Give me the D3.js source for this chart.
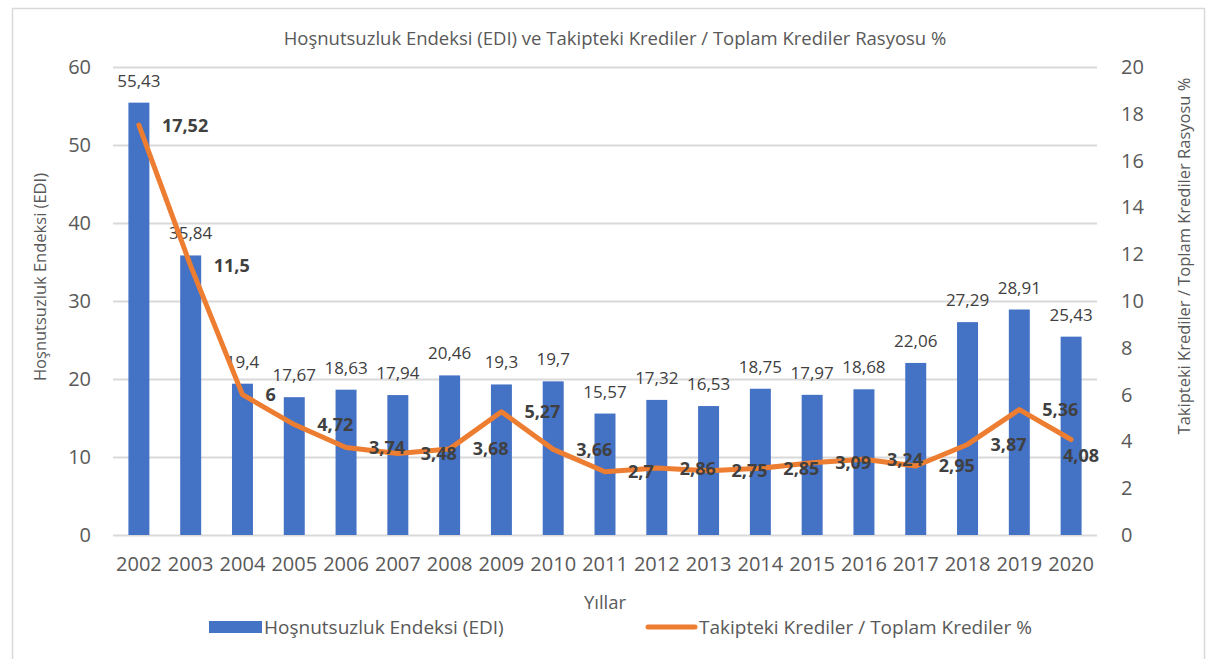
<!DOCTYPE html>
<html>
<head>
<meta charset="utf-8">
<script src="https://cdn.jsdelivr.net/npm/d3@7/dist/d3.min.js"></script>
<style>
  html, body { margin: 0; padding: 0; background: #fff; }
  svg { display: block; font-family: "Open Sans", "Noto Sans", sans-serif; }
  .tick text { fill: #595959; }
</style>
</head>
<body>
<svg id="chart" width="1216" height="659"></svg>
<script>
const years = ['2002', '2003', '2004', '2005', '2006', '2007', '2008', '2009', '2010', '2011',
  '2012', '2013', '2014', '2015', '2016', '2017', '2018', '2019', '2020'];
const ediValues = [55.43, 35.84, 19.4, 17.67, 18.63, 17.94, 20.46, 19.3, 19.7, 15.57,
  17.32, 16.53, 18.75, 17.97, 18.68, 22.06, 27.29, 28.91, 25.43];
const nplValues = [17.52, 11.5, 6, 4.72, 3.74, 3.48, 3.68, 5.27, 3.66, 2.7,
  2.86, 2.75, 2.85, 3.09, 3.24, 2.95, 3.87, 5.36, 4.08];
const leftTicks = [0, 10, 20, 30, 40, 50, 60];
const rightTicks = [0, 2, 4, 6, 8, 10, 12, 14, 16, 18, 20];

const title = 'Hoşnutsuzluk Endeksi (EDI) ve Takipteki Krediler / Toplam Krediler Rasyosu %';
const leftTitle = 'Hoşnutsuzluk Endeksi (EDI)';
const rightTitle = 'Takipteki Krediler / Toplam Krediler Rasyosu %';
const xTitle = 'Yıllar';
const barName = 'Hoşnutsuzluk Endeksi (EDI)';
const lineName = 'Takipteki Krediler / Toplam Krediler %';

const rows = years.map((year, i) => ({ year, edi: ediValues[i], npl: nplValues[i] }));
const comma = (v) => String(v).replace('.', ',');

const svg = d3.select('#chart');
const plot = { left: 113, right: 1097, top: 67, bottom: 535 };
const grey = '#595959';

// chart frame
svg.append('rect').attr('x', 12.5).attr('y', 8.5).attr('width', 1192).attr('height', 680)
  .attr('fill', '#fff').attr('stroke', '#d9d9d9').attr('stroke-width', 1.5);

const x = d3.scaleBand().domain(years).range([plot.left, plot.right]).paddingInner(0.595).paddingOuter(0.2975);
const yLeft = d3.scaleLinear().domain([0, 60]).range([plot.bottom, plot.top]);
const yRight = d3.scaleLinear().domain([0, 20]).range([plot.bottom, plot.top]);
const cx = (d) => x(d.year) + x.bandwidth() / 2;

function styleAxis(g) {
  g.attr('font-family', null).attr('font-size', null);
  g.select('.domain').remove();
  g.selectAll('.tick text').attr('font-size', 20);
}

// gridlines + left axis
const gLeft = svg.append('g').attr('transform', `translate(${plot.left},0)`)
  .call(d3.axisLeft(yLeft).tickValues(leftTicks).tickSize(-(plot.right - plot.left)).tickPadding(22));
styleAxis(gLeft);
gLeft.selectAll('.tick line').attr('stroke', '#d9d9d9').attr('stroke-width', 2);

const gRight = svg.append('g').attr('transform', `translate(${plot.right},0)`)
  .call(d3.axisRight(yRight).tickValues(rightTicks).tickSize(0).tickPadding(24));
styleAxis(gRight);

const gX = svg.append('g').attr('transform', `translate(0,${plot.bottom})`)
  .call(d3.axisBottom(x).tickSize(0).tickPadding(22));
styleAxis(gX);

// bars
svg.append('g').selectAll('rect').data(rows).join('rect')
  .attr('x', (d) => x(d.year)).attr('width', x.bandwidth())
  .attr('y', (d) => yLeft(d.edi)).attr('height', (d) => plot.bottom - yLeft(d.edi))
  .attr('fill', '#4472c4');

svg.append('g').selectAll('text').data(rows).join('text')
  .attr('x', cx).attr('y', (d) => yLeft(d.edi) - 16)
  .attr('text-anchor', 'middle').attr('font-size', 17).attr('fill', '#404040')
  .text((d) => comma(d.edi));

// line
const line = d3.line().x(cx).y((d) => yRight(d.npl));
svg.append('path').datum(rows).attr('d', line).attr('fill', 'none')
  .attr('stroke', '#ed7d31').attr('stroke-width', 5)
  .attr('stroke-linejoin', 'round').attr('stroke-linecap', 'round');

// labels sit right of each point; the last one is pulled back inside the plot
const lineLabels = svg.append('g').selectAll('text').data(rows).join('text')
  .attr('font-size', 18).attr('font-weight', 700).attr('fill', '#404040')
  .attr('dy', '0.36em')
  .text((d) => comma(d.npl));
lineLabels.each(function (d) {
  const w = this.getComputedTextLength();
  let lx = cx(d) + 23;
  let ly = yRight(d.npl);
  if (lx + w > plot.right + 2) {
    lx = plot.right + 2 - w;
    ly += 16;
  }
  d3.select(this).attr('x', lx).attr('y', ly);
});

// titles
svg.append('text').attr('x', 615).attr('y', 45).attr('text-anchor', 'middle')
  .attr('font-size', 18.5).attr('fill', grey).text(title);
svg.append('text').attr('transform', 'translate(46,277) rotate(-90)').attr('text-anchor', 'middle')
  .attr('font-size', 16.5).attr('fill', grey).text(leftTitle);
svg.append('text').attr('transform', 'translate(1190,256) rotate(-90)').attr('text-anchor', 'middle')
  .attr('font-size', 16.5).attr('fill', grey).text(rightTitle);
svg.append('text').attr('x', 605).attr('y', 609).attr('text-anchor', 'middle')
  .attr('font-size', 18.5).attr('fill', grey).text(xTitle);

// legend
const legend = svg.append('g').attr('transform', 'translate(0,627)');
legend.append('rect').attr('x', 209).attr('y', -6).attr('width', 53).attr('height', 12).attr('fill', '#4472c4');
legend.append('text').attr('x', 264).attr('y', 0).attr('dy', '0.35em').attr('font-size', 19)
  .attr('fill', grey).text(barName);
legend.append('line').attr('x1', 648).attr('x2', 695).attr('y1', 0).attr('y2', 0)
  .attr('stroke', '#ed7d31').attr('stroke-width', 5).attr('stroke-linecap', 'round');
legend.append('text').attr('x', 699).attr('y', 0).attr('dy', '0.35em').attr('font-size', 19)
  .attr('fill', grey).text(lineName);
</script>
</body>
</html>
